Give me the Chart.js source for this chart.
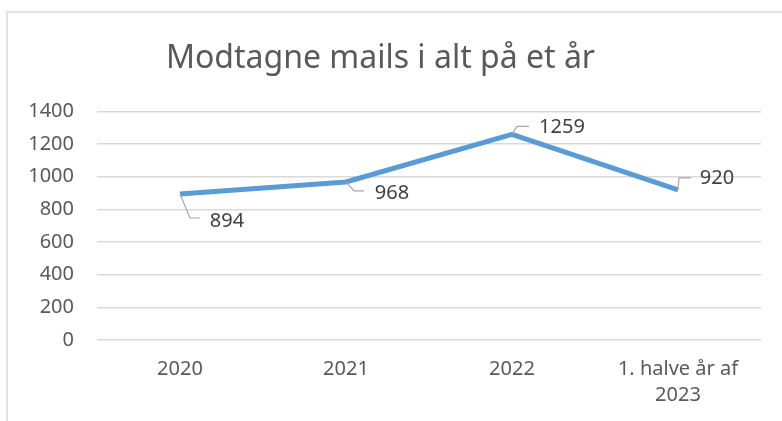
<!DOCTYPE html>
<html>
<head>
<meta charset="utf-8">
<script src="https://cdn.jsdelivr.net/npm/chart.js@4.4.1/dist/chart.umd.min.js"></script>
<style>
  html, body { margin: 0; padding: 0; background: #fff; }
  #wrap { position: relative; width: 782px; height: 421px; }
</style>
</head>
<body>
<div id="wrap"><canvas id="mailChart"></canvas></div>
<script>
var categories = ['2020', '2021', '2022', ['1. halve år af', '2023']];
var mails = [894, 968, 1259, 920];
var yTicks = [0, 200, 400, 600, 800, 1000, 1200, 1400];
var chartTitle = 'Modtagne mails i alt på et år';

var FONT = "'Noto Sans', sans-serif";

// grey frame round the chart, like the office chart border
var framePlugin = {
    id: 'frame',
    beforeDraw: function (chart) {
        var ctx = chart.ctx;
        ctx.save();
        ctx.fillStyle = '#ffffff';
        ctx.fillRect(0, 0, chart.width, chart.height);
        ctx.strokeStyle = '#D9D9D9';
        ctx.lineWidth = 1.5;
        ctx.strokeRect(7, 12, chart.width + 20, chart.height + 20);
        ctx.restore();
    }
};

// value labels with small leader lines
var labelPlugin = {
    id: 'leaderLabels',
    afterDatasetsDraw: function (chart, args, opts) {
        var ctx = chart.ctx;
        var meta = chart.getDatasetMeta(0);
        var ds = chart.data.datasets[0];
        ctx.save();
        meta.data.forEach(function (pt, i) {
            var o = opts.offsets[i];
            ctx.strokeStyle = '#A6A6A6';
            ctx.lineWidth = 1.2;
            ctx.beginPath();
            ctx.moveTo(pt.x, pt.y);
            ctx.lineTo(pt.x + o.ex, pt.y + o.ey);
            ctx.lineTo(pt.x + o.lx, pt.y + o.ey);
            ctx.stroke();
            ctx.fillStyle = '#404040';
            ctx.font = opts.size + 'px ' + FONT;
            ctx.textAlign = 'center';
            ctx.textBaseline = 'middle';
            ctx.fillText(String(ds.data[i]), pt.x + o.tx, pt.y + o.ty);
        });
        ctx.restore();
    }
};

var ctx = document.getElementById('mailChart').getContext('2d');
var myChart = new Chart(ctx, {
    type: 'line',
    data: {
        labels: categories,
        datasets: [{
            label: chartTitle,
            data: mails,
            borderColor: '#5B9BD5',
            borderWidth: 5,
            pointRadius: 0,
            pointHoverRadius: 0,
            tension: 0,
            fill: false
        }]
    },
    options: {
        responsive: true,
        maintainAspectRatio: false,
        animation: false,
        layout: { padding: { left: 0, right: 21, top: 0, bottom: 0 } },
        plugins: {
            legend: { display: false },
            tooltip: { enabled: false },
            title: {
                display: true,
                text: chartTitle,
                color: '#595959',
                font: { family: FONT, size: 32, weight: 'normal' },
                padding: { top: 40, bottom: 33 }
            },
            leaderLabels: {
                size: 20,
                offsets: [
                    { ex: 10, ey: 24, lx: 20, tx: 47, ty: 27 },
                    { ex: 8, ey: 9, lx: 18, tx: 46, ty: 11 },
                    { ex: 5, ey: -8, lx: 17, tx: 50, ty: -7 },
                    { ex: 1, ey: -12, lx: 13, tx: 39, ty: -11 }
                ]
            }
        },
        scales: {
            x: {
                offset: true,
                grid: { display: false },
                border: { display: false },
                ticks: {
                    color: '#595959',
                    font: { family: FONT, size: 20, lineHeight: 1.3 },
                    padding: 8,
                    maxRotation: 0,
                    autoSkip: false
                },
                afterFit: function (scale) { scale.height = 81; }
            },
            y: {
                min: yTicks[0],
                max: yTicks[yTicks.length - 1],
                afterBuildTicks: function (scale) {
                    scale.ticks = yTicks.map(function (v) { return { value: v }; });
                },
                grid: { color: '#D9D9D9', lineWidth: 1.5, drawTicks: false },
                border: { display: false },
                ticks: {
                    color: '#595959',
                    font: { family: FONT, size: 20 },
                    padding: 23,
                    callback: function (v) { return String(v); }
                },
                afterFit: function (scale) { scale.width = 97; }
            }
        }
    },
    plugins: [framePlugin, labelPlugin]
});
</script>
</body>
</html>
